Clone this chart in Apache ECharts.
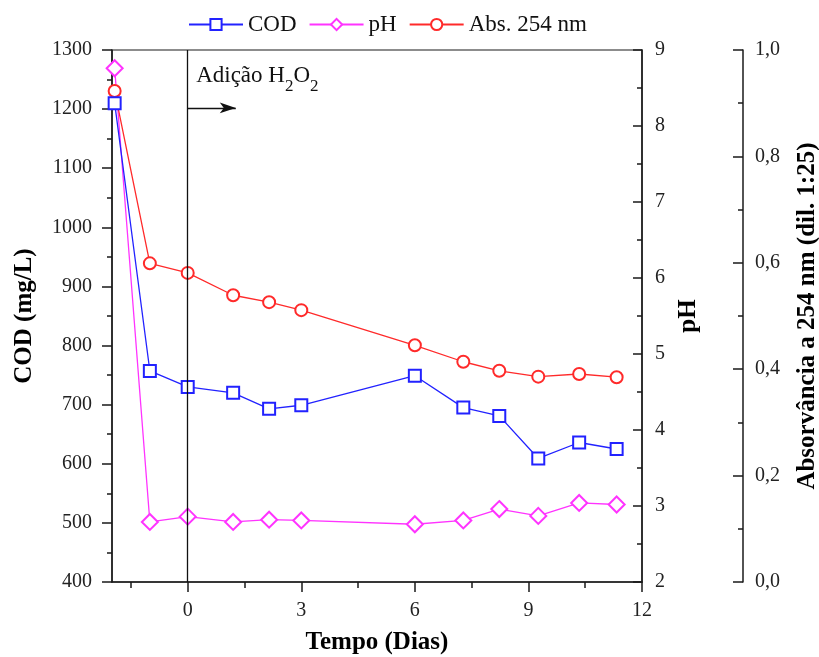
<!DOCTYPE html>
<html>
<head>
<meta charset="utf-8">
<script src="https://cdn.jsdelivr.net/npm/echarts@6/dist/echarts.min.js"></script>
<style>html,body{margin:0;padding:0;background:#fff}#c{width:819px;height:657px}</style>
</head>
<body>
<div id="c"></div>
<script>
// ---- data ----
const days = [-1.93, -1, 0, 1.2, 2.15, 3, 6, 7.28, 8.23, 9.26, 10.34, 11.33];
const cod  = [1210, 757, 730, 720, 693, 699, 749, 695, 681, 609, 636, 625];
const ph   = [8.76, 2.79, 2.86, 2.79, 2.82, 2.81, 2.76, 2.81, 2.96, 2.87, 3.04, 3.02];
const abs  = [0.923, 0.599, 0.581, 0.539, 0.526, 0.511, 0.445, 0.414, 0.397, 0.386, 0.391, 0.385];
const xLabels = [0, 3, 6, 9, 12];
const xMinorTicks = [-1.5, 1.5, 4.5, 7.5, 10.5];
const codMinorTicks = [450, 550, 650, 750, 850, 950, 1050, 1150, 1250];
const phMinorTicks = [2.5, 3.5, 4.5, 5.5, 6.5, 7.5, 8.5];
const absMinorTicks = [0.1, 0.3, 0.5, 0.7, 0.9];
const additionDay = 0;
const arrowEnd = 1.27;
const arrowLevel = 1202;
const noteAt = [0.21, 1256];

const serif = '"Liberation Serif", "Times New Roman", "DejaVu Serif", serif';
const axisCol = '#1a1a1a';
const labelCol = '#222';
const tickStyle = {color: axisCol, width: 1.5};

const pair = (xs, ys) => xs.map((x, i) => [x, ys[i]]);

function tickOnlyAxis(base) {
  return Object.assign({
    type: 'value',
    axisLine: {show: false, onZero: false},
    axisLabel: {show: false},
    splitLine: {show: false},
    name: ''
  }, base);
}

const titleStyle = {fontFamily: serif, fontSize: 25, fontWeight: 'bold', color: '#000'};

const chart = echarts.init(document.getElementById('c'), null, {renderer: 'canvas'});
chart.setOption({
  animation: false,
  backgroundColor: '#fff',
  textStyle: {fontFamily: serif},
  legend: {
    top: 8, left: 183,
    itemWidth: 54, itemHeight: 14, itemGap: 12,
    textStyle: {fontFamily: serif, fontSize: 23, color: '#111'},
    data: ['COD', 'pH', 'Abs. 254 nm']
  },
  grid: {left: 112, right: 177, top: 50, bottom: 75, show: true, borderColor: axisCol, borderWidth: 1.2,
         containLabel: false, outerBoundsMode: 'none'},
  xAxis: [
    {
      type: 'value', min: -2, max: 12, position: 'bottom',
      name: 'Tempo (Dias)', nameLocation: 'middle', nameGap: 48, nameTextStyle: titleStyle,
      axisLine: {show: true, onZero: false, lineStyle: {color: axisCol, width: 1.5}},
      axisTick: {show: true, length: 10, customValues: xLabels, lineStyle: tickStyle},
      axisLabel: {customValues: xLabels, margin: 19, fontFamily: serif, fontSize: 20, color: labelCol},
      splitLine: {show: false}
    },
    tickOnlyAxis({min: -2, max: 12, position: 'bottom',
      axisTick: {show: true, length: 6, customValues: xMinorTicks, lineStyle: tickStyle}})
  ],
  yAxis: [
    {
      type: 'value', min: 400, max: 1300, interval: 100, position: 'left',
      name: 'COD (mg/L)', nameLocation: 'middle', nameGap: 75, nameRotate: 90, nameTextStyle: titleStyle,
      axisLine: {show: true, onZero: false, lineStyle: {color: axisCol, width: 1.5}},
      axisTick: {show: true, length: 10, lineStyle: tickStyle},
      axisLabel: {margin: 20, fontFamily: serif, fontSize: 20, color: labelCol, formatter: v => String(v)},
      splitLine: {show: false}
    },
    {
      type: 'value', min: 2, max: 9, interval: 1, position: 'right',
      name: 'pH', nameLocation: 'middle', nameGap: 31, nameRotate: 90, nameTextStyle: titleStyle,
      axisLine: {show: true, onZero: false, lineStyle: {color: axisCol, width: 1.5}},
      axisTick: {show: true, inside: true, length: 9, lineStyle: tickStyle},
      axisLabel: {margin: 13, fontFamily: serif, fontSize: 20, color: labelCol},
      splitLine: {show: false}
    },
    {
      type: 'value', min: 0, max: 1, interval: 0.2, position: 'right', offset: 101,
      name: 'Absorvância a 254 nm (dil. 1:25)', nameLocation: 'middle', nameGap: 52, nameRotate: 90,
      nameTextStyle: titleStyle,
      axisLine: {show: true, onZero: false, lineStyle: {color: axisCol, width: 1.5}},
      axisTick: {show: true, inside: true, length: 10, lineStyle: tickStyle},
      axisLabel: {margin: 12, fontFamily: serif, fontSize: 20, color: labelCol,
        formatter: v => v.toFixed(1).replace('.', ',')},
      splitLine: {show: false}
    },
    tickOnlyAxis({min: 400, max: 1300, position: 'left',
      axisTick: {show: true, length: 5, customValues: codMinorTicks, lineStyle: tickStyle}}),
    tickOnlyAxis({min: 2, max: 9, position: 'right',
      axisTick: {show: true, inside: true, length: 5, customValues: phMinorTicks, lineStyle: tickStyle}}),
    tickOnlyAxis({min: 0, max: 1, position: 'right', offset: 101,
      axisTick: {show: true, inside: true, length: 5, customValues: absMinorTicks, lineStyle: tickStyle}})
  ],
  series: [
    {
      name: 'COD', type: 'line', yAxisIndex: 0, data: pair(days, cod),
      symbol: 'emptyRect', symbolSize: 12, z: 3,
      lineStyle: {color: '#2222ff', width: 1.3}, itemStyle: {color: '#2222ff', borderWidth: 1.6},
      markLine: {
        silent: true, symbol: ['none', 'none'], animation: false,
        label: {show: false},
        lineStyle: {color: '#111', type: 'solid', width: 1.3},
        data: [
          {xAxis: additionDay},
          [
            {coord: [additionDay, arrowLevel], symbol: 'none'},
            {coord: [arrowEnd, arrowLevel], symbol: 'arrow', symbolSize: [8, 16]}
          ]
        ]
      },
      markPoint: {
        silent: true, symbol: 'circle', symbolSize: 1,
        itemStyle: {color: 'rgba(0,0,0,0)'},
        data: [{coord: noteAt, value: 0}],
        label: {
          show: true, position: 'right', distance: 0,
          formatter: '{a|Adição H}{s|2}{a|O}{s|2}',
          rich: {
            a: {fontFamily: serif, fontSize: 23, color: '#111'},
            s: {fontFamily: serif, fontSize: 17, color: '#111', padding: [22, 0, 0, 0]}
          }
        }
      }
    },
    {
      name: 'pH', type: 'line', yAxisIndex: 1, data: pair(days, ph),
      symbol: 'emptyDiamond', symbolSize: 16, z: 2,
      lineStyle: {color: '#ff33ff', width: 1.3}, itemStyle: {color: '#ff33ff', borderWidth: 1.5}
    },
    {
      name: 'Abs. 254 nm', type: 'line', yAxisIndex: 2, data: pair(days, abs),
      symbol: 'emptyCircle', symbolSize: 12, z: 2,
      lineStyle: {color: '#ff2a2a', width: 1.3}, itemStyle: {color: '#ff2a2a', borderWidth: 1.5}
    }
  ]
});
</script>
</body>
</html>
